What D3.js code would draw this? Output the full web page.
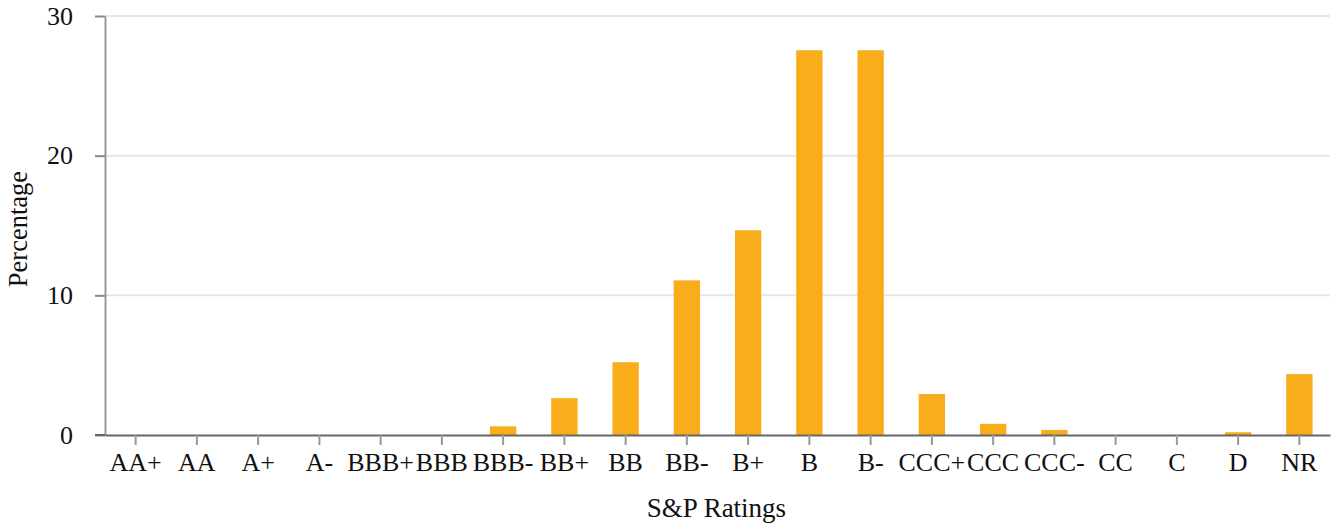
<!DOCTYPE html>
<html>
<head>
<meta charset="utf-8">
<script src="https://cdn.jsdelivr.net/npm/d3@7"></script>
<style>
  body { margin: 0; background: #fff; }
  text { font-family: "Liberation Serif", "Times New Roman", serif; fill: #111; }
</style>
</head>
<body>
<svg id="chart"></svg>
<script>
const ratings = ['AA+', 'AA', 'A+', 'A-', 'BBB+', 'BBB', 'BBB-', 'BB+', 'BB', 'BB-',
  'B+', 'B', 'B-', 'CCC+', 'CCC', 'CCC-', 'CC', 'C', 'D', 'NR'];
const percentages = [0, 0, 0, 0, 0, 0, 0.62, 2.64, 5.21, 11.07,
  14.66, 27.55, 27.55, 2.93, 0.8, 0.36, 0, 0, 0.2, 4.36];
const yTicks = [0, 10, 20, 30];

const width = 1334;
const height = 524;
const margin = { top: 16, right: 4, bottom: 89, left: 105 };

const svg = d3.select('#chart')
  .attr('width', width)
  .attr('height', height);

const x = d3.scaleBand()
  .domain(ratings)
  .range([margin.left, width - margin.right])
  .paddingInner(0.57)
  .paddingOuter(0.285);

const y = d3.scaleLinear()
  .domain([0, 30])
  .range([height - margin.bottom, margin.top]);

// gridlines
svg.append('g')
  .selectAll('line')
  .data(yTicks.filter(d => d > 0))
  .enter()
  .append('line')
  .attr('x1', margin.left)
  .attr('x2', width - margin.right)
  .attr('y1', d => y(d))
  .attr('y2', d => y(d))
  .attr('stroke', '#e6e6e6')
  .attr('stroke-width', 2);

// bars
svg.append('g')
  .selectAll('rect')
  .data(percentages)
  .enter()
  .append('rect')
  .attr('x', (d, i) => x(ratings[i]))
  .attr('y', d => y(d))
  .attr('width', x.bandwidth())
  .attr('height', d => y(0) - y(d))
  .attr('fill', '#f9ad1a');

// y axis
const yAxis = svg.append('g')
  .attr('transform', `translate(${margin.left},0)`)
  .call(d3.axisLeft(y).tickValues(yTicks).tickSize(10).tickPadding(22).tickSizeOuter(0));
yAxis.select('.domain').attr('stroke', '#999').attr('stroke-width', 2);
yAxis.selectAll('.tick line').attr('stroke', '#888').attr('stroke-width', 2);
yAxis.selectAll('.tick text').attr('font-size', 26).attr('fill', '#111');

// x axis
const xAxis = svg.append('g')
  .attr('transform', `translate(0,${y(0)})`)
  .call(d3.axisBottom(x).tickSize(10).tickPadding(8).tickSizeOuter(0));
xAxis.select('.domain').attr('stroke', '#666').attr('stroke-width', 2);
xAxis.selectAll('.tick line').attr('stroke', '#999').attr('stroke-width', 2);
xAxis.selectAll('.tick text').attr('font-size', 26).attr('fill', '#111');

// x baseline runs a little past the y axis on the left
svg.append('line')
  .attr('x1', margin.left - 10)
  .attr('x2', margin.left)
  .attr('y1', y(0))
  .attr('y2', y(0))
  .attr('stroke', '#666')
  .attr('stroke-width', 2);

// axis titles
svg.append('text')
  .attr('x', (margin.left + width - margin.right) / 2 - 1)
  .attr('y', 517)
  .attr('text-anchor', 'middle')
  .attr('font-size', 27)
  .text('S&P Ratings');

svg.append('text')
  .attr('transform', `translate(27, 229) rotate(-90)`)
  .attr('text-anchor', 'middle')
  .attr('font-size', 26.5)
  .text('Percentage');
</script>
</body>
</html>
